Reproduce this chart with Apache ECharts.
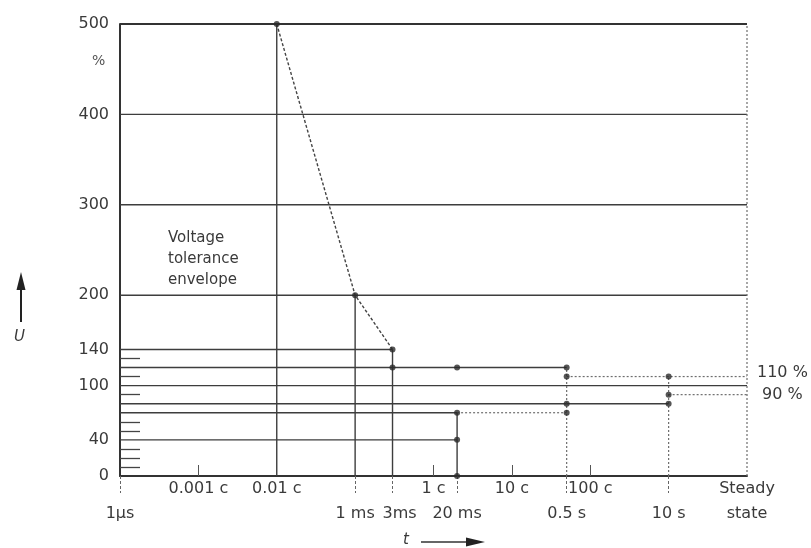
<!DOCTYPE html>
<html><head><meta charset="utf-8">
<script src="https://cdn.jsdelivr.net/npm/echarts@6/dist/echarts.min.js"></script>
<style>html,body{margin:0;padding:0;background:#fff}#c{width:811px;height:548px}</style>
</head><body><div id="c"></div>
<script>
// ---- data ----
const yTickValues = [0, 40, 100, 140, 200, 300, 400, 500];
const yMinorTicks = [10, 20, 30, 50, 60, 90, 110, 130];
const xTopValues = [1e-5, 1e-4, 1e-2, 1e-1, 1, 100];
const xTopLabels = ['0.001 c', '0.01 c', '1 c', '10 c', '100 c', 'Steady'];
const xBottomValues = [1e-6, 1e-3, 3e-3, 2e-2, 0.5, 10, 100];
const xBottomLabels = ['1\u03bcs', '1 ms', '3ms', '20 ms', '0.5 s', '10 s', 'state'];
const xInnerTicks = [1e-5, 1e-2, 1e-1, 1];
const xOuterTicks = [1e-6, 1e-3, 3e-3, 2e-2, 0.5, 10];
const envelopeTime = [1e-4, 1e-3, 3e-3];
const envelopeValue = [500, 200, 140];
const borderLevel = [500];
const hLevel = [400, 300, 200, 140, 120, 100, 80, 70, 40];
const hFrom  = [1e-6, 1e-6, 1e-6, 1e-6, 1e-6, 1e-6, 1e-6, 1e-6, 1e-6];
const hTo    = [100, 100, 100, 3e-3, 0.5, 100, 10, 2e-2, 2e-2];
const hFaintLevel = [70, 110, 90];
const hFaintFrom  = [2e-2, 0.5, 10];
const hFaintTo    = [0.5, 100, 100];
const vTime = [1e-4, 1e-3, 3e-3, 2e-2];
const vTop  = [500, 200, 140, 70];
const vFaintTime = [0.5, 10, 100];
const vFaintTop  = [120, 110, 500];
const dotTime  = [1e-4, 1e-3, 3e-3, 3e-3, 2e-2, 2e-2, 2e-2, 2e-2, 0.5, 0.5, 0.5, 0.5, 10, 10, 10];
const dotValue = [500, 200, 140, 120, 120, 70, 40, 0, 120, 110, 80, 70, 110, 90, 80];
const rightLabels = ['110 %', '90 %'];
const rightLabelLevels = [110, 90];

// ---- helpers ----
const FONT = 'DejaVu Sans';
const TXT = '#3a3a3a';
function lookup(vals, labels, v) {
  for (let i = 0; i < vals.length; i++) {
    if (Math.abs(Math.log10(vals[i]) - Math.log10(v)) < 1e-6) return labels[i];
  }
  return '';
}
const series = [];
function seg(p1, p2, style, extra) {
  series.push(Object.assign({
    type: 'line', data: [p1, p2], symbol: 'none', silent: true,
    lineStyle: style, animation: false, z: 3
  }, extra || {}));
}
const solid = { color: '#3d3d3d', width: 1.4, type: 'solid' };
const faint = { color: '#6e6e6e', width: 1.2, type: [2, 2] };

borderLevel.forEach(l => seg([1e-6, l], [100, l], { color: '#333', width: 2 }));
hLevel.forEach((l, i) => seg([hFrom[i], l], [hTo[i], l], solid));
hFaintLevel.forEach((l, i) => {
  const ri = rightLabelLevels.indexOf(l);
  const extra = ri >= 0 && hFaintTo[i] === 100 ? {
    endLabel: { show: true, formatter: rightLabels[ri], distance: 10, offset: [ri === 0 ? 0 : 5, ri === 0 ? -4 : 0],
      fontFamily: FONT, fontSize: 16, color: TXT }
  } : null;
  seg([hFaintFrom[i], l], [hFaintTo[i], l], faint, extra);
});
vTime.forEach((t, i) => seg([t, 0], [t, vTop[i]], solid));
vFaintTime.forEach((t, i) => seg([t, 0], [t, vFaintTop[i]], faint));

series.push({
  type: 'line', data: envelopeTime.map((t, i) => [t, envelopeValue[i]]),
  symbol: 'none', silent: true, animation: false, z: 4,
  lineStyle: { color: '#444', width: 1.4, type: [3, 2] }
});
series.push({
  type: 'scatter', data: dotTime.map((t, i) => [t, dotValue[i]]),
  symbolSize: 6, itemStyle: { color: '#2a2a2a' }, silent: true, animation: false, z: 5
});

const chart = echarts.init(document.getElementById('c'), null, { renderer: 'canvas' });
chart.setOption({
  backgroundColor: '#fff',
  animation: false,
  grid: { left: 120, right: 64, top: 24, bottom: 72, containLabel: false },
  xAxis: [
    {
      type: 'log', logBase: 10, min: 1e-6, max: 100, position: 'bottom',
      axisLine: { show: true, onZero: false, lineStyle: { color: '#333', width: 2 } },
      axisTick: { show: true, inside: true, length: 11, customValues: xInnerTicks, lineStyle: { color: '#555', width: 1 } },
      axisLabel: { customValues: xTopValues, formatter: v => lookup(xTopValues, xTopLabels, v), margin: 5, fontFamily: FONT, fontSize: 16, color: TXT, showMinLabel: true, showMaxLabel: true },
      splitLine: { show: false }, minorTick: { show: false }
    },
    {
      type: 'log', logBase: 10, min: 1e-6, max: 100, position: 'bottom',
      axisLine: { show: false },
      axisTick: { show: true, inside: false, length: 17, customValues: xOuterTicks, lineStyle: { color: '#666', width: 1, type: [3, 2] } },
      axisLabel: {
        customValues: xBottomValues,
        formatter: v => { const s = lookup(xBottomValues, xBottomLabels, v); return s === '3ms' ? '{r|' + s + '}' : s; },
        rich: { r: { padding: [0, 0, 0, 14], fontFamily: FONT, fontSize: 16, color: TXT } },
        margin: 30, fontFamily: FONT, fontSize: 16, color: TXT, showMinLabel: true, showMaxLabel: true
      },
      splitLine: { show: false }
    }
  ],
  yAxis: [
    {
      type: 'value', min: 0, max: 500, position: 'left',
      axisLine: { show: true, onZero: false, lineStyle: { color: '#333', width: 2 } },
      axisTick: { show: false },
      axisLabel: { customValues: yTickValues, margin: 11, fontFamily: FONT, fontSize: 16, color: TXT },
      splitLine: { show: false }
    },
    {
      type: 'value', min: 0, max: 500, position: 'left',
      axisLine: { show: false },
      axisTick: { show: true, inside: true, length: 20, customValues: yMinorTicks, lineStyle: { color: '#444', width: 1.3 } },
      axisLabel: { show: false },
      splitLine: { show: false }
    }
  ],
  series: series,
  graphic: [
    { type: 'text', left: 92, top: 54, style: { text: '%', font: '14px "DejaVu Sans"', fill: '#555' } },
    { type: 'text', left: 168, top: 228, style: { text: 'Voltage\ntolerance\nenvelope', font: '15px "DejaVu Sans"', lineHeight: 21, fill: TXT } },
    // U arrow
    { type: 'line', shape: { x1: 21, y1: 287, x2: 21, y2: 322 }, style: { stroke: '#222', lineWidth: 2 } },
    { type: 'polygon', shape: { points: [[21, 272], [16.5, 290], [25.5, 290]] }, style: { fill: '#222' } },
    { type: 'text', left: 14, top: 330, style: { text: 'U', font: 'italic 15px "DejaVu Sans"', fill: TXT } },
    // t arrow
    { type: 'text', left: 403, top: 533, style: { text: 't', font: 'italic 15px "DejaVu Sans"', fill: TXT } },
    { type: 'line', shape: { x1: 421, y1: 542, x2: 470, y2: 542 }, style: { stroke: '#333', lineWidth: 1.5 } },
    { type: 'polygon', shape: { points: [[485, 542], [466, 537.5], [466, 546.5]] }, style: { fill: '#222' } }
  ]
});
</script>
</body></html>
